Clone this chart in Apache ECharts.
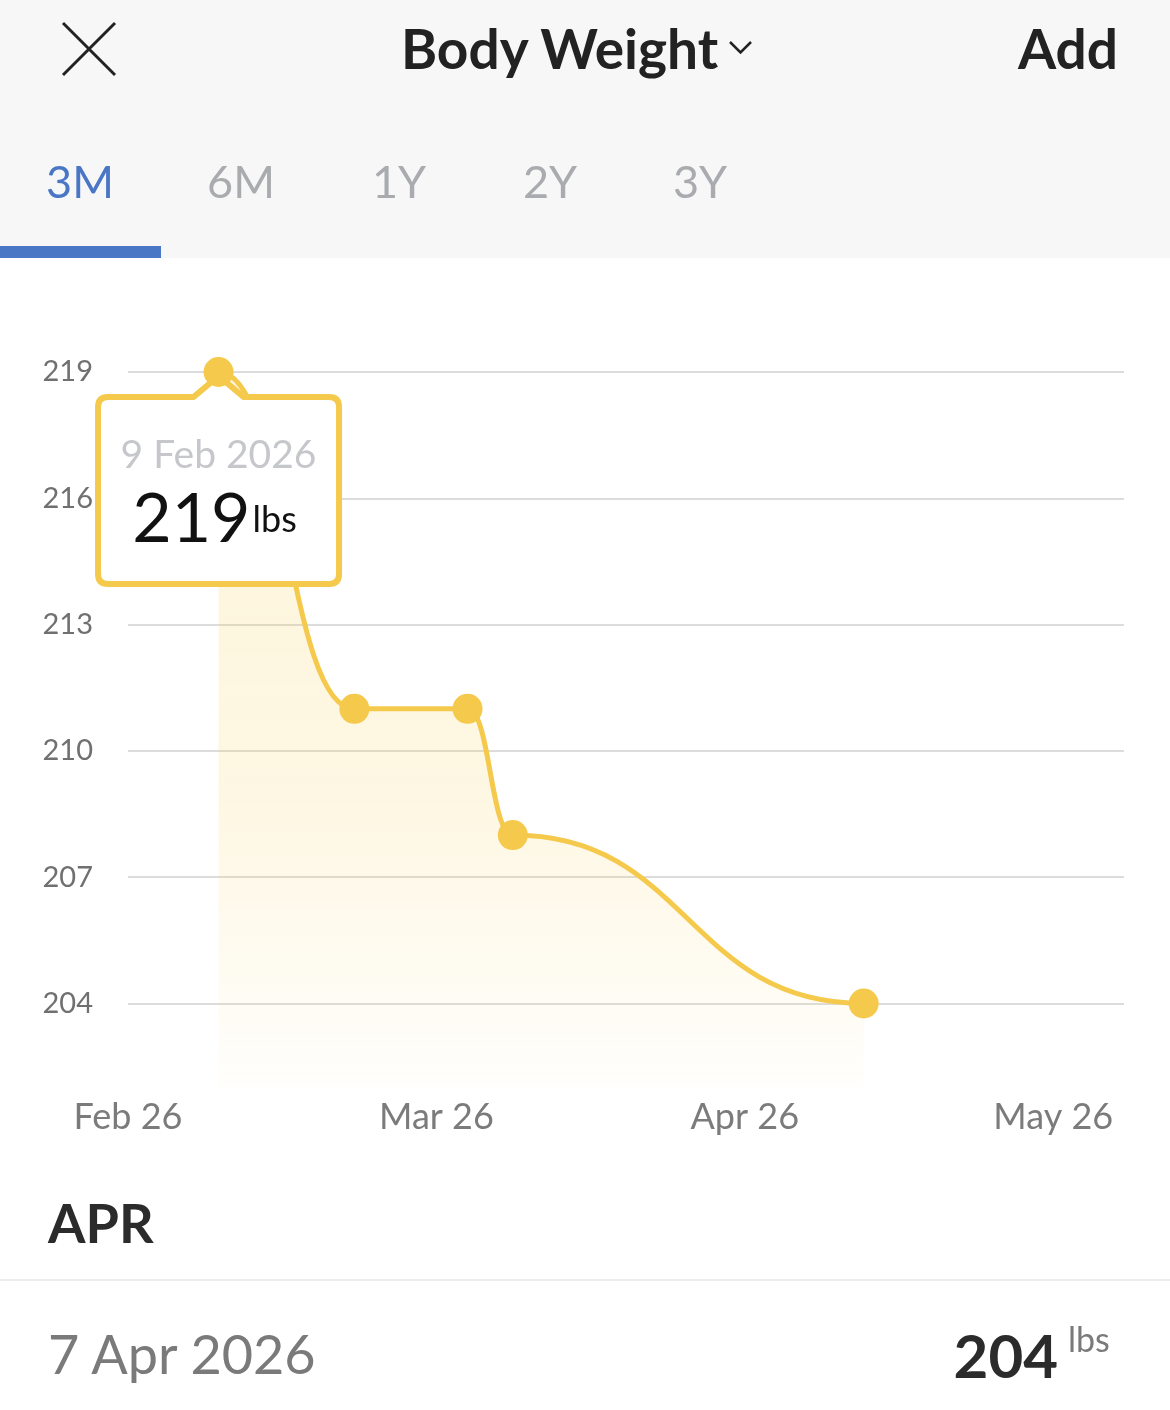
<!DOCTYPE html>
<html>
<head>
<meta charset="utf-8">
<script src="https://cdn.jsdelivr.net/npm/echarts@6.0.0/dist/echarts.min.js"></script>
<style>
html,body{margin:0;padding:0;width:1170px;height:1410px;background:#fff;overflow:hidden;font-family:Lato,"Noto Sans",sans-serif;}
#hdr{position:absolute;left:0;top:0;width:1170px;height:258px;background:#f7f7f8;}
#chart{position:absolute;left:0;top:0;width:1170px;height:1410px;}
.t{position:absolute;line-height:1;white-space:nowrap;}
.tab{position:absolute;top:159px;width:120px;text-align:center;font-size:45px;line-height:1;color:#a9abaf;}
#divider{position:absolute;left:0;top:1279px;width:1170px;height:2px;background:#ececec;}
</style>
</head>
<body>
<div id="hdr"></div>
<div id="chart"></div>
<svg class="t" style="left:0;top:0" width="1170" height="258">
  <path d="M63 23 L115 75 M115 23 L63 75" stroke="#222" stroke-width="3" fill="none"/>
  <path d="M730 42 L740.5 52.5 L751 42" stroke="#222" stroke-width="2.5" fill="none"/>
  <rect x="0" y="246" width="161" height="12" fill="#4a76c6"/>
</svg>
<div class="t" style="left:401px;top:21px;font-size:55px;font-weight:700;color:#222;">Body Weight</div>
<div class="t" style="right:52px;top:21px;font-size:55px;font-weight:700;color:#222;">Add</div>
<div class="tab" style="left:20px;color:#4a76c6;">3M</div>
<div class="tab" style="left:181px;">6M</div>
<div class="tab" style="left:339px;">1Y</div>
<div class="tab" style="left:490px;">2Y</div>
<div class="tab" style="left:640px;">3Y</div>
<div class="t" style="left:48px;top:1196px;font-size:54px;font-weight:700;color:#2b2b2b;">APR</div>
<div id="divider"></div>
<div class="t" style="left:48px;top:1327px;font-size:54px;color:#7a7a7a;">7 Apr 2026</div>
<div class="t" style="right:112px;top:1325px;font-size:60px;font-weight:700;color:#2b2b2b;">204</div>
<div class="t" style="left:1068px;top:1322px;font-size:34px;color:#7a7a7a;">lbs</div>
<script>
// ---- data ----
const dates = ['2026-02-09', '2026-02-21', '2026-03-03', '2026-03-07', '2026-04-07'];
const weights = [219, 211, 211, 208, 204];
const xLabels = ['Feb 26', 'Mar 26', 'Apr 26', 'May 26'];
const axisStart = '2026-02-01';
const axisDays = 88;
const labelStep = 27.25;
const yMin = 202, yMax = 219, yStep = 3;
const unit = 'lbs';
const monthNames = ['Jan','Feb','Mar','Apr','May','Jun','Jul','Aug','Sep','Oct','Nov','Dec'];

const DAY = 86400000;
const xs = dates.map(d => (Date.parse(d) - Date.parse(axisStart)) / DAY);
const points = xs.map((x, i) => [x, weights[i]]);
const YELLOW = '#f5c94b';

function fmtDate(s) {
  const d = new Date(s + 'T00:00:00Z');
  return d.getUTCDate() + ' ' + monthNames[d.getUTCMonth()] + ' ' + d.getUTCFullYear();
}

const chart = echarts.init(document.getElementById('chart'), null, {renderer: 'canvas'});

function renderItem(params, api) {
  if (params.dataIndex !== 0) return null;
  const pts = points.map(p => api.coord(p));
  const cs = params.coordSys;
  const bottom = cs.y + cs.height;
  let d = 'M' + pts[0][0] + ',' + pts[0][1];
  for (let i = 1; i < pts.length; i++) {
    const x0 = pts[i - 1][0], y0 = pts[i - 1][1], x1 = pts[i][0], y1 = pts[i][1];
    const mx = (x0 + x1) / 2;
    d += ' C' + mx + ',' + y0 + ' ' + mx + ',' + y1 + ' ' + x1 + ',' + y1;
  }
  const last = pts[pts.length - 1];
  const area = d + ' L' + last[0] + ',' + bottom + ' L' + pts[0][0] + ',' + bottom + ' Z';

  const mi = weights.indexOf(Math.max.apply(null, weights));
  const px = pts[mi][0], py = pts[mi][1];
  const L = px - 120.5, R = px + 120.5, T = py + 25, B = py + 212, r = 10, aw = 25, ay = py + 4;
  const callout = 'M' + (L + r) + ',' + T + ' L' + (px - aw) + ',' + T + ' L' + px + ',' + ay +
    ' L' + (px + aw) + ',' + T + ' L' + (R - r) + ',' + T + ' Q' + R + ',' + T + ' ' + R + ',' + (T + r) +
    ' L' + R + ',' + (B - r) + ' Q' + R + ',' + B + ' ' + (R - r) + ',' + B +
    ' L' + (L + r) + ',' + B + ' Q' + L + ',' + B + ' ' + L + ',' + (B - r) +
    ' L' + L + ',' + (T + r) + ' Q' + L + ',' + T + ' ' + (L + r) + ',' + T + ' Z';

  return {
    type: 'group',
    children: [
      {type: 'path', z2: 1, shape: {pathData: area}, style: {
        fill: {type: 'linear', x: 0, y: cs.y, x2: 0, y2: bottom, global: true,
          colorStops: [
            {offset: 0, color: 'rgba(247,205,80,0.21)'},
            {offset: 0.6, color: 'rgba(247,205,80,0.16)'},
            {offset: 1, color: 'rgba(247,205,80,0.02)'}
          ]},
        stroke: 'none'}},
      {type: 'path', z2: 2, shape: {pathData: d}, style: {fill: 'none', stroke: YELLOW, lineWidth: 5, lineCap: 'round', lineJoin: 'round'}},
      {type: 'path', z2: 3, shape: {pathData: callout}, style: {fill: '#fff', stroke: YELLOW, lineWidth: 6, lineJoin: 'round'}},
      {type: 'text', z2: 4, style: {text: fmtDate(dates[mi]), x: px, y: py + 83, fontSize: 39, fontFamily: 'Lato', fill: '#c5c7cb', align: 'center', verticalAlign: 'middle'}},
      {type: 'text', z2: 4, style: {text: String(weights[mi]), x: px + 32, y: py + 148, fontSize: 68, fontFamily: 'Lato', fill: '#111', align: 'right', verticalAlign: 'middle'}},
      {type: 'text', z2: 4, style: {text: unit, x: px + 34, y: py + 148, fontSize: 36, fontFamily: 'Lato', fill: '#111', align: 'left', verticalAlign: 'middle'}}
    ]
  };
}

chart.setOption({
  animation: false,
  grid: {left: 128, right: 46, top: 372, bottom: 322.3, containLabel: false},
  xAxis: {
    type: 'value', min: 0, max: axisDays, interval: labelStep,
    axisLine: {show: false}, axisTick: {show: false}, splitLine: {show: false},
    axisLabel: {
      showMaxLabel: false, margin: 12, color: '#7b7b7b', fontSize: 36, fontFamily: 'Lato',
      formatter: function (v) {
        const i = Math.round(v / labelStep);
        return (Math.abs(v - i * labelStep) < 1e-6 && i < xLabels.length) ? xLabels[i] : '';
      }
    }
  },
  yAxis: {
    type: 'value', min: yMin, max: yMax, minInterval: yStep, maxInterval: yStep,
    axisLine: {show: false}, axisTick: {show: false},
    splitLine: {show: true, showMinLine: false, lineStyle: {color: '#dcdcdc', width: 2}},
    axisLabel: {showMinLabel: false, margin: 35, color: '#707070', fontSize: 29, fontFamily: 'Lato'}
  },
  series: [
    {type: 'custom', renderItem: renderItem, data: points, z: 2, silent: true, clip: false},
    {type: 'scatter', data: points, symbol: 'circle', symbolSize: 30, itemStyle: {color: YELLOW, opacity: 1}, z: 5, silent: true}
  ]
});
</script>
</body>
</html>
